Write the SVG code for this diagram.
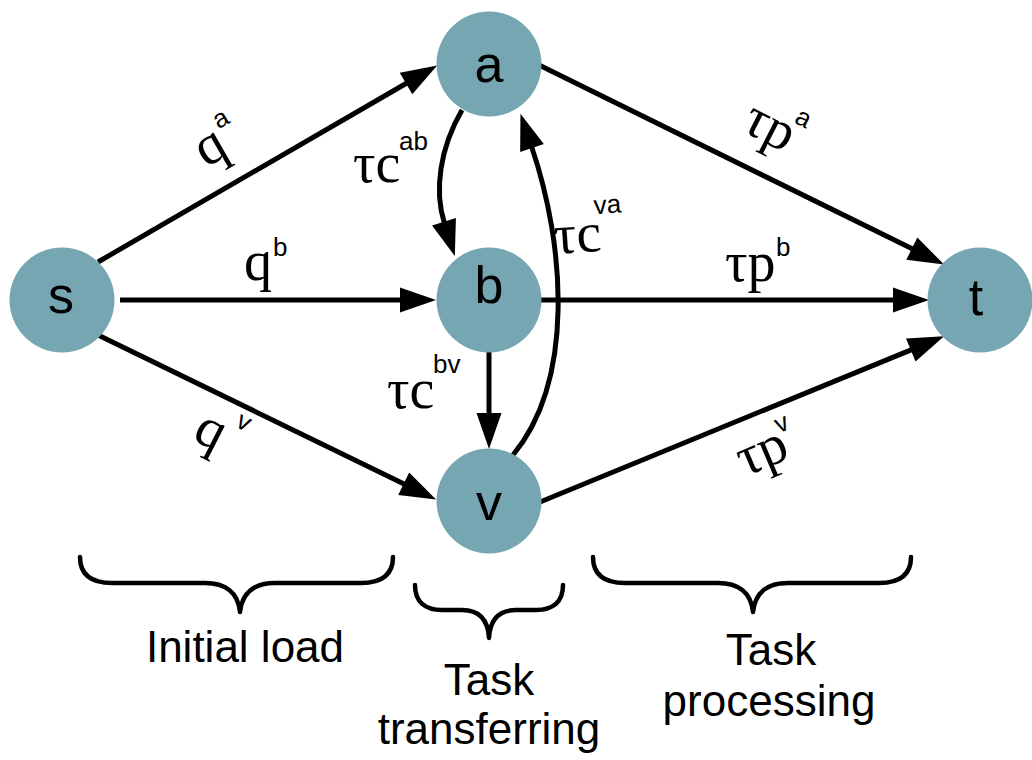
<svg xmlns="http://www.w3.org/2000/svg" width="1032" height="760" viewBox="0 0 1032 760">
  <defs>
    <style>
      .node { fill: #75a6b1; }
      .nlabel { font-family: "Liberation Sans", Arial, sans-serif; font-size: 52px; fill: #000; text-anchor: middle; }
      .edge { fill: none; stroke: #000; stroke-width: 5; }
      .m { font-family: "Liberation Serif", "Times New Roman", serif; font-size: 56px; fill: #000; }
      .sup { font-family: "Liberation Sans", Arial, sans-serif; font-size: 26px; fill: #000; }
      .brace { fill: none; stroke: #000; stroke-width: 4.5; stroke-linecap: round; stroke-linejoin: round; }
      .caption { font-family: "Liberation Sans", Arial, sans-serif; font-size: 44px; fill: #000; text-anchor: middle; }
    </style>
    <marker id="arrow" markerUnits="userSpaceOnUse" markerWidth="40" markerHeight="30" viewBox="0 -15 40 30" refX="1" refY="0" orient="auto" overflow="visible">
      <path d="M0,-12.5 L36,0 L0,12.5 z" fill="#000"/>
    </marker>
  </defs>

  <rect width="1032" height="760" fill="#fff"/>

  <!-- connectors -->
  <g id="edges">
    <path id="e-s-a" class="edge" d="M98,262 L406.9,83" marker-end="url(#arrow)"/>
    <path id="e-s-b" class="edge" d="M120,300 L401,300" marker-end="url(#arrow)"/>
    <path id="e-s-v" class="edge" d="M98,335 L404.6,484.2" marker-end="url(#arrow)"/>
    <path id="e-a-t" class="edge" d="M539,65 L912.7,249.1" marker-end="url(#arrow)"/>
    <path id="e-b-t" class="edge" d="M541,300 L894,300" marker-end="url(#arrow)"/>
    <path id="e-v-t" class="edge" d="M540,502 L911.7,349.6" marker-end="url(#arrow)"/>
    <path id="e-b-v" class="edge" d="M489,350 L489,414" marker-end="url(#arrow)"/>
    <path id="e-a-b" class="edge" d="M462,110 C440,148 434,190 444.3,222.7" marker-end="url(#arrow)"/>
    <path id="e-v-a" class="edge" d="M513,455 C575,380 565,245 531.7,147" marker-end="url(#arrow)"/>
  </g>

  <!-- edge labels -->
  <g id="edge-labels">
    <g id="lbl-qa" transform="translate(206,168) rotate(-30)">
      <text class="m" x="0" y="0">q</text>
      <text class="sup" x="30" y="-27">a</text>
    </g>
    <g id="lbl-qb">
      <text class="m" x="244" y="280">q</text>
      <text class="sup" x="273" y="256">b</text>
    </g>
    <g id="lbl-qv" transform="translate(191,439) rotate(27)">
      <text class="m" x="0" y="0">q</text>
      <text class="sup" x="33" y="-31">v</text>
    </g>
    <g id="lbl-cab">
      <text class="m" x="353" y="182">τc</text>
      <text class="sup" x="399" y="150">ab</text>
    </g>
    <g id="lbl-cbv">
      <text class="m" x="387" y="408">τc</text>
      <text class="sup" x="433" y="373">bv</text>
    </g>
    <g id="lbl-cva" transform="rotate(-4 555 254)">
      <text class="m" x="555" y="254">τc</text>
      <text class="sup" x="597" y="217">va</text>
    </g>
    <g id="lbl-pa" transform="translate(740,130) rotate(27)">
      <text class="m" x="0" y="0">τp</text>
      <text class="sup" x="44" y="-31">a</text>
    </g>
    <g id="lbl-pb">
      <text class="m" x="725" y="281">τp</text>
      <text class="sup" x="776" y="256">b</text>
    </g>
    <g id="lbl-pv" transform="translate(745,477) rotate(-23)">
      <text class="m" x="0" y="0">τp</text>
      <text class="sup" x="48" y="-27">v</text>
    </g>
  </g>

  <!-- nodes -->
  <g id="node-s">
    <circle class="node" cx="62" cy="300" r="52.5"/>
    <text class="nlabel" x="61" y="313">s</text>
  </g>
  <g id="node-a">
    <circle class="node" cx="489" cy="64" r="52.5"/>
    <text class="nlabel" x="489" y="82">a</text>
  </g>
  <g id="node-b">
    <circle class="node" cx="489" cy="300" r="52.5"/>
    <text class="nlabel" x="489" y="303">b</text>
  </g>
  <g id="node-v">
    <circle class="node" cx="489" cy="501" r="52.5"/>
    <text class="nlabel" x="489" y="520">v</text>
  </g>
  <g id="node-t">
    <circle class="node" cx="980" cy="300" r="52.5"/>
    <text class="nlabel" x="976" y="315">t</text>
  </g>

  <!-- stage braces and captions -->
  <g id="stage-initial">
    <path class="brace" d="M80,557 C80,575 92,583 112,583 L205,583 C225,583 238,592 240,612 C242,592 255,583 275,583 L361,583 C381,583 393,575 393,557"/>
    <text class="caption" x="245" y="662">Initial load</text>
  </g>
  <g id="stage-transfer">
    <path class="brace" d="M415,585 C415,602 425,610 442,610 L462,610 C480,610 488,620 489,638 C490,620 498,610 516,610 L536,610 C553,610 563,602 563,585"/>
    <text class="caption" x="489" y="695">Task</text>
    <text class="caption" x="489" y="744">transferring</text>
  </g>
  <g id="stage-processing">
    <path class="brace" d="M593,557 C593,575 605,583 625,583 L718,583 C738,583 751,592 753,612 C755,592 768,583 788,583 L879,583 C899,583 911,575 911,557"/>
    <text class="caption" x="771" y="665">Task</text>
    <text class="caption" x="769" y="716">processing</text>
  </g>
</svg>
